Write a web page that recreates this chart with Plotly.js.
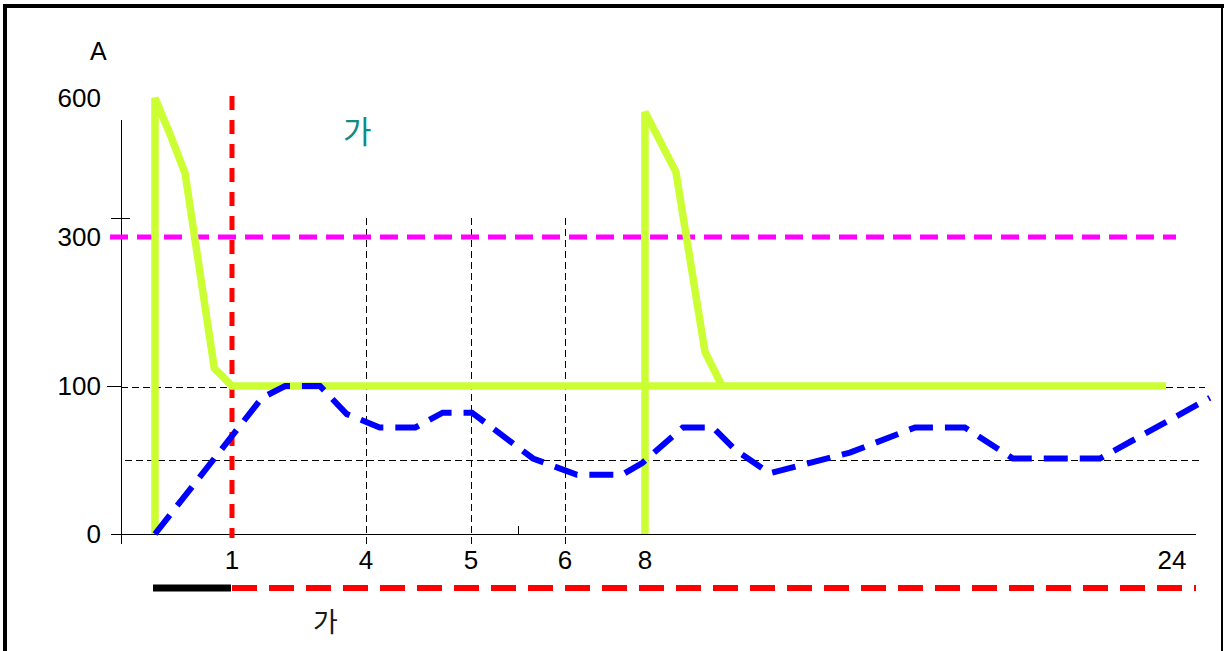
<!DOCTYPE html>
<html>
<head>
<meta charset="utf-8">
<script src="https://cdn.plot.ly/plotly-3.0.1.min.js"></script>
<style>
html,body{margin:0;padding:0;background:#fff;overflow:hidden}
#chart{width:1225px;height:651px}
</style>
</head>
<body>
<div id="chart"></div>
<script>
// ---------------- data ----------------
const xTickHours = [1, 4, 5, 6, 8, 24];
const yTickAmps = [0, 100, 300, 600];

// inrush current (green), first start
const greenHours1 = [0, 0, 0.19, 0.39, 0.77, 1, 23.82];
const greenAmps1  = [0, 600, 524, 438, 124, 100, 100];
// second start (green)
const greenHours2 = [8, 8, 8.94, 9.82, 10.34];
const greenAmps2  = [0, 570, 440, 146, 100];

// load current (blue dashed)
const blueHours = [0, 1.67, 2.19, 2.97, 3.57, 4.13, 4.47, 4.73, 5.01, 5.66, 6.0, 6.3, 7.43, 7.93,
                   9.15, 10.06, 10.73, 11.79, 14.22, 16.2, 17.71, 19.17, 21.81, 25.15];
const blueAmps  = [0, 92, 100, 100, 81, 72, 72, 82, 82, 51, 43, 40, 40, 48,
                   72, 72, 57, 41, 55, 72, 72, 51, 51, 92];

const limitAmps = 300;     // magenta limit
const ratedAmps = 100;     // rated current grid
const halfAmps  = 50;      // half level grid
const gridHours = [4, 5, 6];
const minorTickHour = 5.5;
const switchHour = 1;

// ---------------- schematic scale (layout) ----------------
const X_ANCHOR_H = [0, 1, 4, 5, 6, 8, 24];
const X_ANCHOR_P = [155, 232, 366, 471, 565, 645, 1172];
const Y_ANCHOR_A = [0, 100, 300, 600];
const Y_ANCHOR_P = [534, 386, 237, 98];

function interp(v, a, p) {
  let i = 0;
  while (i < a.length - 2 && v > a[i + 1]) i++;
  const t = (v - a[i]) / (a[i + 1] - a[i]);
  return p[i] + t * (p[i + 1] - p[i]);
}
const toX = h => interp(h, X_ANCHOR_H, X_ANCHOR_P);
const toY = v => interp(v, Y_ANCHOR_A, Y_ANCHOR_P);

const GREEN = '#CCFF33', BLUE = '#0000FF', RED = '#FF0000', MAGENTA = '#FF00FF';
const FONT = 'Liberation Sans, Arial, sans-serif';
const KFONT = 'Noto Sans CJK KR, sans-serif';

const traces = [
  {x: greenHours1.map(toX), y: greenAmps1.map(toY), mode: 'lines',
   line: {color: GREEN, width: 7.5}, hoverinfo: 'skip'},
  {x: greenHours2.map(toX), y: greenAmps2.map(toY), mode: 'lines',
   line: {color: GREEN, width: 7.5}, hoverinfo: 'skip'},
  {x: blueHours.map(toX), y: blueAmps.map(toY), mode: 'lines',
   line: {color: BLUE, width: 6, dash: '24px,12px'}, hoverinfo: 'skip'}
];

const thin = {color: '#000', width: 1};
const thinDash = {color: '#000', width: 1, dash: '7px,4px'};
const GRID_TOP = 218, GRID_BOTTOM = 548;
const H = 0.5; // crisp 1px lines
const shapes = [];
function seg(x0, y0, x1, y1, line) {
  shapes.push({type: 'line', xref: 'x', yref: 'y', x0, y0, x1, y1, line, layer: 'below'});
}
// grid / axes
seg(121 + H, 120, 121 + H, 544, thin);                       // y axis line
seg(111, GRID_TOP + H, 130, GRID_TOP + H, thin);             // upper y tick
seg(107, toY(ratedAmps) + H, 121, toY(ratedAmps) + H, thin); // 100 tick
seg(121, toY(ratedAmps) + 1 + H, 1205, toY(ratedAmps) + 1 + H, thinDash);
seg(125, toY(halfAmps) + H, 1202, toY(halfAmps) + H, thinDash);
seg(111, toY(0) + H, 1196, toY(0) + H, thin);                // x axis line
gridHours.forEach(h => seg(Math.round(toX(h)) + H, GRID_TOP, Math.round(toX(h)) + H, GRID_BOTTOM, thinDash));
seg(Math.round(toX(minorTickHour)) + H, toY(0) - 8, Math.round(toX(minorTickHour)) + H, toY(0), thin);
// limit line
seg(110, toY(limitAmps), 1176, toY(limitAmps), {color: MAGENTA, width: 5, dash: '18px,9px'});
// switch-over line
seg(toX(switchHour), 96, toX(switchHour), 538, {color: RED, width: 5, dash: '14px,10px'});
// bottom bar
seg(toX(0) - 2, 588, toX(switchHour) - 1, 588, {color: '#000', width: 7});
seg(toX(switchHour), 588, 1196, 588, {color: RED, width: 6, dash: '25px,12px'});
// frame
shapes.push({type: 'line', xref: 'x', yref: 'y', x0: 3, y0: 6, x1: 1224, y1: 6, line: {color: '#000', width: 4}});
shapes.push({type: 'line', xref: 'x', yref: 'y', x0: 5, y0: 4, x1: 5, y1: 660, line: {color: '#000', width: 4}});
shapes.push({type: 'line', xref: 'x', yref: 'y', x0: 1222, y0: 4, x1: 1222, y1: 660, line: {color: '#000', width: 2}});

const annotations = [
  {x: 98, y: 51, text: 'A', showarrow: false, xref: 'x', yref: 'y',
   font: {family: FONT, size: 25, color: '#000'}},
  {x: 357, y: 129, text: '가', showarrow: false, xref: 'x', yref: 'y',
   font: {family: KFONT, size: 31, color: '#0F8C86'}},
  {x: 325, y: 620, text: '가', showarrow: false, xref: 'x', yref: 'y',
   font: {family: KFONT, size: 27, color: '#1a1a1a'}}
];

const layout = {
  width: 1225, height: 651,
  margin: {l: 0, r: 0, t: 0, b: 0},
  paper_bgcolor: '#fff', plot_bgcolor: '#fff',
  showlegend: false,
  xaxis: {range: [0, 1225], anchor: 'free', position: 1 - 534 / 651,
          tickvals: xTickHours.map(toX), ticktext: xTickHours.map(String),
          showgrid: false, zeroline: false, showline: false, ticks: '',
          ticklabelstandoff: 8,
          tickfont: {family: FONT, size: 26, color: '#000'}, fixedrange: true},
  yaxis: {range: [651, 0], anchor: 'free', position: 121 / 1225,
          tickvals: yTickAmps.map(toY), ticktext: yTickAmps.map(String),
          showgrid: false, zeroline: false, showline: false, ticks: '',
          ticklabelstandoff: 20,
          tickfont: {family: FONT, size: 26, color: '#000'}, fixedrange: true},
  shapes, annotations
};

Plotly.newPlot('chart', traces, layout, {staticPlot: true, displayModeBar: false});
</script>
</body>
</html>
